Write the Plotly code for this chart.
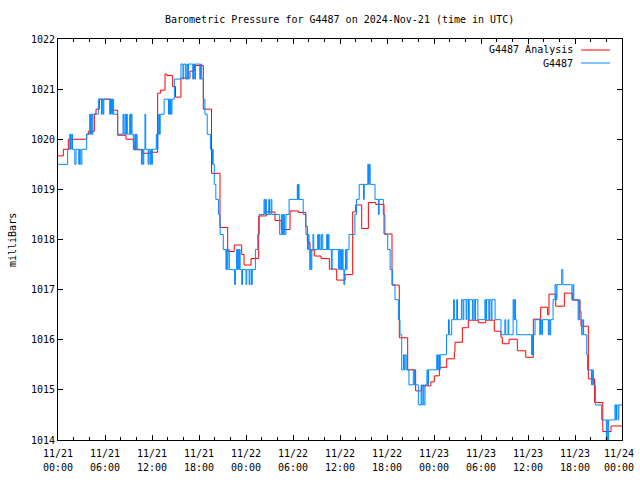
import plotly.graph_objects as go
import pandas as pd

# ---------------- data ----------------
start = pd.Timestamp("2024-11-21 00:00")

# G4487 Analysis (red) : change points, hours after 11/21 00:00 UTC, millibars
red_hours = [0, 0.68, 1.32, 3.66, 3.87, 4.64, 4.85, 5.28, 6.77, 7.62, 8.68, 9.62, 9.70, 10.77, 11.74,
             12.72, 13.10, 13.66, 13.9, 14.64, 15.0, 15.70, 16.85, 17.4, 18.55, 19.6, 20.68, 21.66,
             22.5, 23.45, 23.75, 24.64, 25.62, 26.6, 27.7, 28.5, 29.62, 30.68, 31.62, 31.83, 32.17,
             32.72, 33.58, 34.64, 35.58, 36.64, 37.62, 38.0, 38.77, 39.62, 40.56, 41.62, 42.64, 43.57,
             44.64, 45.66, 46.43, 47.6, 48.04, 48.68, 49.62, 50.6, 50.68, 51.62, 52.38, 53.66, 54.6,
             55.7, 56.55, 56.72, 57.58, 58.64, 59.71, 60.68, 61.62, 62.5, 62.68, 63.54, 64.64, 65.66,
             66.64, 66.77, 67.7, 68.5, 69.55, 70.6, 72]
red_mb = [1019.67, 1019.80, 1020.00, 1020.10, 1020.16, 1020.50, 1020.60, 1020.80, 1020.58, 1020.08,
          1020.00, 1019.97, 1019.79, 1019.72, 1019.74, 1020.92, 1020.98, 1021.30, 1021.27, 1021.05,
          1020.84, 1021.22, 1021.36, 1021.47, 1020.60, 1019.32, 1018.24, 1017.76, 1017.89, 1017.70,
          1017.49, 1017.62, 1018.47, 1018.55, 1018.38, 1018.20, 1018.57, 1018.54, 1018.26, 1017.94,
          1017.79, 1017.67, 1017.62, 1017.41, 1017.19, 1017.30, 1018.55, 1018.69, 1018.22, 1018.74,
          1018.70, 1018.11, 1017.09, 1016.04, 1015.40, 1014.98, 1015.08, 1015.16, 1015.28, 1015.45,
          1015.62, 1015.76, 1015.95, 1016.24, 1016.39, 1016.34, 1016.39, 1016.17, 1016.05, 1015.92,
          1016.01, 1015.78, 1015.65, 1016.41, 1016.65, 1016.50, 1016.91, 1016.67, 1016.93, 1016.79,
          1016.56, 1016.27, 1015.22, 1014.75, 1014.17, 1014.28, 1014.28]

# G4487 observations (blue) : change points
blue_hours = [0, 1.23, 1.5, 1.6, 1.7, 1.85, 2.15, 2.3, 2.65, 2.75, 2.9, 3.05, 3.66,
              4.05, 4.15, 4.25, 4.35, 4.45, 5.15, 5.55, 5.65, 5.75, 5.85, 6.6, 6.7, 6.85, 6.95, 7.1,
              7.62, 8.3, 8.4, 8.55, 8.65, 8.75, 8.85, 9.15, 9.25, 9.35, 9.45, 9.62,
              9.8, 9.9, 10.0, 10.1, 10.65, 10.75, 10.85, 10.95, 11.1, 11.2,
              11.5, 11.6, 11.75, 11.85, 11.95, 12.05, 12.55, 12.65, 12.75, 12.85, 12.95, 13.05,
              13.55, 14.1, 14.15, 14.25, 14.35, 14.45, 14.55, 14.85, 15.7,
              15.95, 16.05, 16.3, 16.45, 16.55, 16.65, 17.2, 17.3, 17.45, 17.55, 18.1, 18.2,
              18.34, 18.55, 18.75, 19.05, 19.45, 19.7, 19.75, 19.8, 19.95, 20.15, 20.5, 20.7, 21.1,
              21.45, 21.5, 21.6, 21.7, 21.87, 22.55, 22.65, 22.8, 22.9, 23.0, 23.1, 23.15, 23.25,
              23.45, 23.55, 24.0, 24.1, 24.4, 24.5, 24.7, 24.8, 25.2, 25.5, 25.7,
              26.3, 26.4, 26.5, 26.6, 26.9, 27.0, 27.2, 27.3, 28.3, 28.55, 28.65, 28.8, 28.9,
              29.1, 29.5, 30.55, 30.62, 30.7, 30.77, 31.3, 31.65, 31.85, 31.95, 32.05,
              32.15, 32.2, 32.3, 32.4, 32.55, 32.65, 33.15, 33.25, 33.35, 33.45, 33.65, 33.8,
              34.3, 34.4, 34.5, 34.6, 34.9, 35.0, 35.8, 35.9, 36.0, 36.1, 36.2, 36.3, 36.4, 36.5,
              36.6, 36.7, 36.8, 36.9, 37.15, 37.9, 38.1, 38.45, 39.0, 39.1, 39.55, 39.65, 39.75,
              39.85, 40.47, 40.9, 41.0, 41.53, 41.74, 42.09, 42.4, 42.72, 43.02, 43.45, 43.66,
              43.88, 44.1, 44.2, 44.3, 44.45, 44.8, 45.36, 45.5, 46.0, 46.35, 46.45, 46.6, 46.7,
              46.85, 47.1, 47.2, 47.3, 48.35, 48.45, 48.6, 48.7, 48.8, 49.6, 49.85, 49.95, 50.26,
              50.5, 50.6, 50.9, 51.0, 51.5, 51.7, 51.8, 52.1, 52.2, 52.4, 52.5, 52.9, 53.0, 53.2,
              53.3, 53.6, 54.5, 54.6, 54.7, 55.0, 55.1, 55.3, 55.4, 55.8,
              56.55, 57.05, 57.15, 57.45, 57.55, 58.1, 58.2, 58.3, 58.4, 58.56,
              60.47, 60.55, 60.6, 60.7, 60.9, 61.5, 61.6, 61.75, 61.85, 62.6, 62.7, 62.8, 62.9,
              63.2, 63.45, 63.6, 63.7, 64.3, 64.45, 65.6, 65.75, 65.85, 66.4, 66.5, 66.6,
              66.85, 67.0, 67.1, 67.5, 67.6, 68.1, 68.25, 68.35, 68.6, 69.4,
              70.0, 70.1, 70.2, 70.3, 71.1, 71.2, 71.3, 71.5, 71.6, 72]
blue_mb = [1019.5, 1019.8, 1020.1, 1019.8, 1020.1, 1019.8, 1019.5, 1019.8, 1019.5, 1019.8, 1019.5, 1019.8, 1020.1,
           1020.5, 1020.1, 1020.5, 1020.1, 1020.5, 1020.8, 1020.5, 1020.8, 1020.5, 1020.8, 1020.5, 1020.8, 1020.5, 1020.8, 1020.5,
           1020.1, 1020.5, 1020.1, 1020.5, 1020.1, 1020.5, 1020.1, 1020.5, 1020.1, 1020.5, 1020.1, 1019.8,
           1020.1, 1019.8, 1020.1, 1019.8, 1019.5, 1019.8, 1019.5, 1019.8, 1020.5, 1019.8,
           1019.5, 1019.8, 1019.5, 1019.8, 1019.5, 1019.8, 1020.1, 1019.8, 1020.1, 1020.5, 1020.1, 1020.5,
           1020.8, 1020.5, 1020.8, 1020.5, 1020.8, 1020.5, 1020.8, 1021.2, 1021.5,
           1021.2, 1021.5, 1021.2, 1021.5, 1021.2, 1021.5, 1021.2, 1021.5, 1021.2, 1021.5, 1021.2, 1021.5,
           1021.2, 1020.8, 1020.5, 1020.1, 1019.8, 1019.5, 1019.8, 1019.5, 1019.1, 1018.8, 1018.5, 1018.1, 1017.8,
           1017.4, 1017.8, 1017.4, 1017.8, 1017.4, 1017.1, 1017.4, 1017.8, 1017.4, 1017.8, 1017.4, 1017.8, 1017.4,
           1017.1, 1017.4, 1017.1, 1017.4, 1017.1, 1017.4, 1017.1, 1017.4, 1017.8, 1018.1, 1018.5,
           1018.8, 1018.5, 1018.8, 1018.5, 1018.8, 1018.5, 1018.8, 1018.5, 1018.1, 1018.5, 1018.1, 1018.5, 1018.1,
           1018.5, 1018.8, 1019.1, 1018.8, 1019.1, 1018.8, 1018.5, 1018.1, 1017.8, 1018.1, 1017.8,
           1017.4, 1017.8, 1017.4, 1017.8, 1018.1, 1017.8, 1018.1, 1017.8, 1018.1, 1017.8, 1018.1, 1017.8,
           1018.1, 1017.8, 1018.1, 1017.8, 1017.4, 1017.8, 1017.4, 1017.8, 1017.4, 1017.8, 1017.4, 1017.8, 1017.4, 1017.1,
           1017.4, 1017.8, 1017.4, 1017.8, 1018.1, 1018.5, 1018.8, 1019.1, 1018.8, 1019.1, 1019.5, 1019.1, 1019.5,
           1019.1, 1018.8, 1018.5, 1018.8, 1018.5, 1018.1, 1017.8, 1017.4, 1017.1, 1016.8, 1016.4, 1016.1,
           1015.4, 1015.7, 1015.4, 1015.7, 1015.4, 1015.1, 1015.4, 1015.1, 1014.7, 1015.1, 1014.7, 1015.1, 1014.7,
           1015.1, 1015.4, 1015.1, 1015.4, 1015.7, 1015.4, 1015.7, 1015.4, 1015.7, 1016.1, 1016.4, 1016.1, 1016.4,
           1016.8, 1016.4, 1016.8, 1016.4, 1016.8, 1016.4, 1016.8, 1016.4, 1016.8, 1016.4, 1016.8, 1016.4, 1016.8, 1016.4,
           1016.8, 1016.4, 1016.8, 1016.4, 1016.8, 1016.4, 1016.8, 1016.4, 1016.8, 1016.4,
           1016.1, 1016.4, 1016.1, 1016.4, 1016.1, 1016.8, 1016.4, 1016.8, 1016.4, 1016.1,
           1015.7, 1016.1, 1015.7, 1016.1, 1016.4, 1016.1, 1016.4, 1016.1, 1016.4, 1016.1, 1016.4, 1016.1, 1016.4,
           1016.8, 1017.1, 1016.8, 1017.1, 1017.4, 1017.1, 1016.8, 1017.1, 1016.8, 1016.4, 1016.8, 1016.4,
           1016.1, 1016.4, 1016.1, 1015.7, 1015.4, 1015.1, 1015.4, 1015.1, 1014.7, 1014.4,
           1014.0, 1014.4, 1014.0, 1014.4, 1014.7, 1014.4, 1014.7, 1014.4, 1014.7, 1014.7]

x_tick_hours = [0, 6, 12, 18, 24, 30, 36, 42, 48, 54, 60, 66, 72]
x_tick_dates = ["11/21", "11/21", "11/21", "11/21", "11/22", "11/22", "11/22", "11/22",
                "11/23", "11/23", "11/23", "11/23", "11/24\u00a0"]
x_tick_times = ["00:00", "06:00", "12:00", "18:00", "00:00", "06:00", "12:00", "18:00",
                "00:00", "06:00", "12:00", "18:00", "00:00\u00a0"]
y_ticks = [1014, 1015, 1016, 1017, 1018, 1019, 1020, 1021, 1022]

title_text = "Barometric Pressure for G4487 on 2024-Nov-21 (time in UTC)"
y_title = "milliBars"
red_name = "G4487 Analysis"
blue_name = "G4487"
# --------------------------------------


def to_time(hours):
    return [start + pd.Timedelta(hours=h) for h in hours]


RED = "#ff0000"
BLUE = "#0088ff"
FONT = "DejaVu Sans Mono"
TF = dict(family=FONT, size=10, color="black")

W, H = 640, 480
# plot box in screen pixels: x 58..622, y 39..440
L, R, T, B = 58, 640 - 622, 39, 480 - 440
pw, ph = W - L - R, H - T - B


def px_x(x):          # screen x -> paper
    return (x - L) / pw


def px_y(y):          # screen y -> paper
    return (H - B - y) / ph


xrange_ = [start, start + pd.Timedelta(hours=72)]

fig = go.Figure()
fig.add_trace(go.Scatter(x=to_time(red_hours), y=red_mb, mode="lines", line_shape="hv",
                         line=dict(color=RED, width=1), name=red_name, showlegend=False,
                         xaxis="x", yaxis="y"))
fig.add_trace(go.Scatter(x=to_time(blue_hours), y=blue_mb, mode="lines", line_shape="hv",
                         line=dict(color=BLUE, width=1), name=blue_name, showlegend=False,
                         xaxis="x2", yaxis="y"))

fig.update_layout(
    width=W, height=H,
    margin=dict(l=L, r=R, t=T, b=B, pad=0),
    paper_bgcolor="white", plot_bgcolor="white",
    font=TF, showlegend=False,
    xaxis=dict(
        range=xrange_, tickvals=to_time(x_tick_hours), ticktext=x_tick_dates,
        showgrid=False, zeroline=False, showline=True, linecolor="black", linewidth=1,
        mirror="ticks", ticks="inside", ticklen=5, tickcolor="black", tickwidth=1,
        minor=dict(ticks="inside", ticklen=3, dtick=2 * 3600 * 1000, tick0=start, tickcolor="black"),
        tickfont=TF, automargin=False, ticklabelstandoff=4, ticklabeloverflow="allow",
    ),
    xaxis2=dict(
        overlaying="x", anchor="y", side="bottom",
        range=xrange_, tickvals=to_time(x_tick_hours), ticktext=x_tick_times,
        showgrid=False, zeroline=False, showline=False, ticks="",
        tickfont=TF, automargin=False, ticklabelstandoff=20, ticklabeloverflow="allow",
    ),
    yaxis=dict(
        range=[1014, 1022], tickvals=y_ticks, ticktext=[str(v) for v in y_ticks],
        showgrid=False, zeroline=False, showline=True, linecolor="black", linewidth=1,
        mirror="ticks", ticks="inside", ticklen=5, tickcolor="black", tickwidth=1,
        tickfont=TF, automargin=False,
    ),
)

annotations = [
    dict(text=title_text, x=px_x(339), y=px_y(20), xref="paper", yref="paper",
         xanchor="center", yanchor="middle", showarrow=False, font=TF),
    dict(text=y_title, x=px_x(12), y=px_y(240), xref="paper", yref="paper", textangle=-90,
         xanchor="center", yanchor="middle", showarrow=False, font=TF),
    dict(text=red_name, x=px_x(575), y=px_y(50), xref="paper", yref="paper",
         xanchor="right", yanchor="middle", showarrow=False, font=TF),
    dict(text=blue_name, x=px_x(575), y=px_y(63), xref="paper", yref="paper",
         xanchor="right", yanchor="middle", showarrow=False, font=TF),
]
fig.update_layout(annotations=annotations)
fig.add_shape(type="line", xref="paper", yref="paper", x0=px_x(581), x1=px_x(610),
              y0=px_y(50), y1=px_y(50), line=dict(color=RED, width=1))
fig.add_shape(type="line", xref="paper", yref="paper", x0=px_x(581), x1=px_x(610),
              y0=px_y(63), y1=px_y(63), line=dict(color=BLUE, width=1))

fig.write_html("out.html", config={"displayModeBar": False},
               post_script="document.body.style.margin='0';document.body.style.overflow='hidden';")
